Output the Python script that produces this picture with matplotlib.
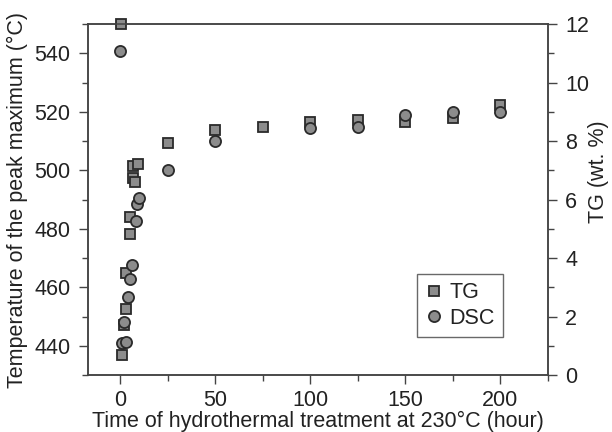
import numpy as np
import matplotlib
matplotlib.use("Agg")
import matplotlib.pyplot as plt
from matplotlib.ticker import MultipleLocator

plt.rcParams['font.family'] = ['Liberation Sans', 'DejaVu Sans']

# TG data (right axis, wt. %)
tg_time = [0.4, 0.9, 1.7, 2.9, 3.1, 4.9, 4.9, 6.5, 6.8, 7.9, 9.5,
           25, 50, 75, 100, 125, 150, 175, 200]
tg_val = [12.0, 0.69, 1.71, 2.24, 3.50, 4.82, 5.39, 6.75, 7.14, 6.59, 7.20,
          7.92, 8.38, 8.47, 8.66, 8.72, 8.65, 8.79, 9.23]

# DSC data (left axis, peak temperature in °C)
dsc_time = [-0.4, 0.9, 3.2, 1.7, 3.8, 5.3, 6.1, 8.4, 9.0, 10.0,
            25, 50, 100, 125, 150, 175, 200]
dsc_val = [540.9, 441.0, 441.4, 448.2, 456.7, 462.7, 467.6, 482.8, 488.3, 490.4,
           500.1, 510.1, 514.4, 514.8, 518.9, 519.9, 519.9]

axcol = '#444444'
txtcol = '#222222'
fill = '#8c8c8c'
edge = '#2a2a2a'
fs = 15.5

fig = plt.figure(figsize=(6.12, 4.32), dpi=100)
ax = fig.add_axes([0.1438, 0.1319, 0.7516, 0.8125])
ax2 = ax.twinx()

# circles on top of the squares
ax.set_zorder(ax2.get_zorder() + 1)
ax.patch.set_visible(False)

sq, = ax2.plot(tg_time, tg_val, 's', ms=7.2, mfc=fill, mec=edge, mew=1.3,
               clip_on=False, zorder=5, label='TG')
ci, = ax.plot(dsc_time, dsc_val, 'o', ms=8, mfc=fill, mec=edge, mew=1.3,
              clip_on=False, zorder=5, label='DSC')

ax.set_xlim(-17, 225)
ax.set_ylim(430, 550)
ax2.set_ylim(0, 12)

ax.xaxis.set_major_locator(MultipleLocator(50))
ax.xaxis.set_minor_locator(MultipleLocator(25))
ax.yaxis.set_major_locator(MultipleLocator(20))
ax.yaxis.set_minor_locator(MultipleLocator(10))
ax2.yaxis.set_major_locator(MultipleLocator(2))
ax2.yaxis.set_minor_locator(MultipleLocator(1))

for a in (ax, ax2):
    for s in a.spines.values():
        s.set_color(axcol)
        s.set_linewidth(1.1)
    a.tick_params(which='major', direction='out', length=6.5, width=1.0,
                  color=axcol, labelsize=fs, labelcolor=txtcol, pad=6)
    a.tick_params(which='minor', direction='out', length=4.3, width=1.0,
                  color=axcol)
ax.tick_params(axis='x', which='major', pad=4)

ax.set_xlabel('Time of hydrothermal treatment at 230°C (hour)', fontsize=fs,
              color=txtcol, labelpad=0)
ax.set_ylabel('Temperature of the peak maximum (°C)', fontsize=fs,
              color=txtcol)
ax.yaxis.set_label_coords(-0.13, 0.5)
ax2.set_ylabel('TG (wt. %)', fontsize=fs, color=txtcol)
ax2.yaxis.set_label_coords(1.087, 0.58)

leg = ax.legend([sq, ci], ['TG', 'DSC'], loc='lower left',
                bbox_to_anchor=(0.715, 0.108), fontsize=fs, frameon=True,
                fancybox=False, handlelength=0.8, handletextpad=0.3,
                borderpad=0.4, labelspacing=0.2, borderaxespad=0)
leg.get_frame().set_edgecolor(axcol)
leg.get_frame().set_linewidth(1.0)
for t in leg.get_texts():
    t.set_color(txtcol)

plt.savefig('out.png', dpi=100)
